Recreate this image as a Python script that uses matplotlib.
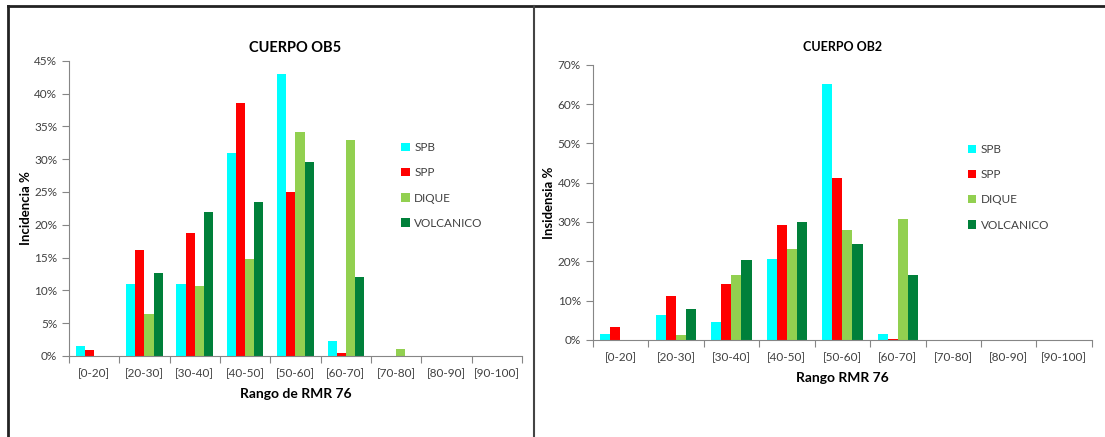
import matplotlib
matplotlib.use("Agg")
import matplotlib.pyplot as plt
from matplotlib.lines import Line2D
from matplotlib.ticker import FuncFormatter, MultipleLocator
import numpy as np

plt.rcParams['font.family'] = ['Lato', 'DejaVu Sans']

categories = ['[0-20]', '[20-30]', '[30-40]', '[40-50]', '[50-60]',
              '[60-70]', '[70-80]', '[80-90]', '[90-100]']
series_names = ['SPB', 'SPP', 'DIQUE', 'VOLCANICO']
colors = ['#00FFFF', '#FF0000', '#92D050', '#00803A']

# porcentajes por rango, cuerpo OB5
ob5_spb = [1.5, 11.0, 11.0, 30.9, 42.9, 2.3, 0.0, 0.0, 0.0]
ob5_spp = [0.9, 16.1, 18.8, 38.5, 25.0, 0.4, 0.0, 0.0, 0.0]
ob5_dique = [0.0, 6.4, 10.6, 14.8, 34.1, 32.9, 1.0, 0.0, 0.0]
ob5_volcanico = [0.0, 12.6, 22.0, 23.5, 29.5, 12.1, 0.0, 0.0, 0.0]

# porcentajes por rango, cuerpo OB2
ob2_spb = [1.4, 6.3, 4.7, 20.5, 65.1, 1.4, 0.0, 0.0, 0.0]
ob2_spp = [3.4, 11.2, 14.2, 29.2, 41.2, 0.25, 0.0, 0.0, 0.0]
ob2_dique = [0.0, 1.2, 16.6, 23.1, 28.0, 30.7, 0.0, 0.0, 0.0]
ob2_volcanico = [0.0, 8.0, 20.3, 29.9, 24.4, 16.4, 0.0, 0.0, 0.0]

TXT = '#404040'
AXC = '#868686'


def bar_chart(ax, data, title, xlabel, ylabel, ymax, ystep, title_size,
              title_pad, ylabel_x, leg_anchor):
    x = np.arange(len(categories))
    w = 1 / 5.5
    for i, (vals, name, col) in enumerate(zip(data, series_names, colors)):
        ax.bar(x + (i - 1.5) * w, vals, w, color=col, label=name)
    ax.set_xlim(-0.5, len(categories) - 0.5)
    ax.set_ylim(0, ymax)
    ax.yaxis.set_major_locator(MultipleLocator(ystep))
    ax.yaxis.set_major_formatter(FuncFormatter(lambda v, p: '%d%%' % round(v)))
    ax.set_xticks(np.arange(len(categories) + 1) - 0.5)
    ax.set_xticklabels([])
    ax.set_xticks(x, minor=True)
    ax.set_xticklabels(categories, minor=True)
    ax.tick_params(axis='x', which='major', length=5, color=AXC, direction='out')
    ax.tick_params(axis='x', which='minor', length=0, pad=9,
                   labelsize=8.5, labelcolor=TXT)
    ax.tick_params(axis='y', length=5, color=AXC, labelsize=8.5, labelcolor=TXT)
    for s in ['top', 'right']:
        ax.spines[s].set_visible(False)
    for s in ['left', 'bottom']:
        ax.spines[s].set_color(AXC)
    ax.set_title(title, fontsize=title_size, fontweight='bold', pad=title_pad)
    ax.set_xlabel(xlabel, fontsize=10, fontweight='bold', labelpad=6)
    ax.set_ylabel(ylabel, fontsize=9.5, fontweight='bold', va='center')
    ax.yaxis.set_label_coords(ylabel_x, 0.5)
    leg = ax.legend(loc='upper left', bbox_to_anchor=leg_anchor, frameon=False,
                    fontsize=8.5, labelspacing=1.2, handlelength=0.7,
                    handleheight=0.7, handletextpad=0.4)
    for t in leg.get_texts():
        t.set_color(TXT)


fig = plt.figure(figsize=(11.05, 4.37), dpi=100)

ax1 = fig.add_axes([0.0624, 0.1854, 0.4100, 0.6757])
bar_chart(ax1, [ob5_spb, ob5_spp, ob5_dique, ob5_volcanico], 'CUERPO OB5',
          'Rango de RMR 76', 'Incidencia %', 45, 5, 10.5, 6, -0.095,
          (0.71, 0.76))

ax2 = fig.add_axes([0.5364, 0.2220, 0.4518, 0.6300])
bar_chart(ax2, [ob2_spb, ob2_spp, ob2_dique, ob2_volcanico], 'CUERPO OB2',
          'Rango RMR 76', 'Insidensia %', 70, 10, 9, 10, -0.088,
          (0.73, 0.75))

# marcos de las dos hojas
fig.add_artist(Line2D([8 / 1105, 8 / 1105], [0, 1 - 6 / 437], color='#222222', lw=2))
fig.add_artist(Line2D([8 / 1105, 1], [1 - 6 / 437, 1 - 6 / 437], color='#222222', lw=2))
fig.add_artist(Line2D([534 / 1105, 534 / 1105], [0, 1 - 6 / 437], color='#444444', lw=1.5))

fig.savefig('out.png', dpi=100)
